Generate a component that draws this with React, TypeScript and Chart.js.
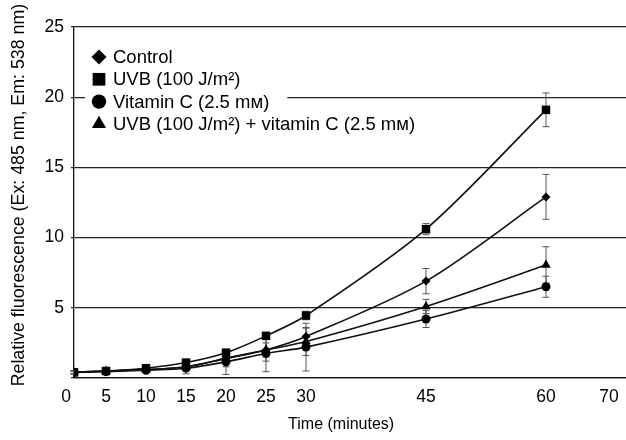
import React, { useEffect, useRef } from 'react';
import { Chart, registerables } from 'chart.js';

Chart.register(...registerables);

const FONT = '"Liberation Sans", Arial, Helvetica, sans-serif';

// Sampling times (minutes)
const times = [1, 5, 10, 15, 20, 25, 30, 45, 60];

// Series values (relative fluorescence)
const controlValues = [0.4, 0.5, 0.6, 0.8, 1.4, 2.0, 2.95, 6.9, 12.9];
const uvbValues = [0.4, 0.5, 0.7, 1.1, 1.8, 3.0, 4.45, 10.6, 19.1];
const vitCValues = [0.4, 0.45, 0.55, 0.7, 1.15, 1.75, 2.2, 4.2, 6.5];
const uvbVitCValues = [0.4, 0.5, 0.6, 0.8, 1.4, 2.0, 2.6, 5.1, 8.05];

// Error bar half-lengths
const controlErrors = [0.1, 0.1, 0.15, 0.2, 0.3, 0.5, 0.6, 0.9, 1.6];
const uvbErrors = [0.1, 0.1, 0.1, 0.15, 0.2, 0.25, 0.3, 0.4, 1.2];
const vitCErrors = [0.1, 0.1, 0.15, 0.4, 0.9, 1.3, 1.7, 0.6, 0.75];
const uvbVitCErrors = [0.1, 0.1, 0.2, 0.3, 0.6, 0.8, 1.0, 0.5, 1.3];

const seriesNames = [
  'Control',
  'UVB (100 J/m²)',
  'Vitamin C (2.5 mᴍ)',
  'UVB (100 J/m²) + vitamin C (2.5 mᴍ)',
];

const xTickValues = [0, 5, 10, 15, 20, 25, 30, 45, 60, 70];
const xTickLabels = ['0', '5', '10', '15', '20', '25', '30', '45', '60', '70'];

const yTickValues = [0, 5, 10, 15, 20, 25];
const yTickLabels = ['', '5', '10', '15', '20', '25'];

const xTitle = 'Time (minutes)';
const yTitle = 'Relative fluorescence (Ex: 485 nm, Em: 538 nm)';

const seriesValues = [controlValues, uvbValues, vitCValues, uvbVitCValues];
const seriesErrors = [controlErrors, uvbErrors, vitCErrors, uvbVitCErrors];
const pointStyles = ['rectRot', 'rect', 'circle', 'triangle'];
const pointRadii = [4.5, 6, 4.5, 5.5];
const legendRadii = [7.5, 9, 7.2, 8.2];

const NBSP = '\u00a0';

function drawMarker(ctx: CanvasRenderingContext2D, style: string, x: number, y: number, r: number) {
  ctx.beginPath();
  if (style === 'rectRot') {
    ctx.moveTo(x, y - r);
    ctx.lineTo(x + r, y);
    ctx.lineTo(x, y + r);
    ctx.lineTo(x - r, y);
    ctx.closePath();
  } else if (style === 'rect') {
    const s = r * Math.SQRT1_2;
    ctx.rect(x - s, y - s, 2 * s, 2 * s);
  } else if (style === 'circle') {
    ctx.arc(x, y, r, 0, Math.PI * 2);
  } else {
    ctx.moveTo(x, y - r);
    ctx.lineTo(x + r * 0.866, y + r / 2);
    ctx.lineTo(x - r * 0.866, y + r / 2);
    ctx.closePath();
  }
  ctx.fill();
}

const errorBarPlugin = {
  id: 'errorBars',
  beforeDatasetsDraw(chart: any) {
    const ctx = chart.ctx as CanvasRenderingContext2D;
    const yScale = chart.scales.y;
    ctx.save();
    ctx.strokeStyle = '#555';
    ctx.lineWidth = 1;
    chart.data.datasets.forEach((_ds: any, i: number) => {
      const meta = chart.getDatasetMeta(i);
      const errs = seriesErrors[i];
      meta.data.forEach((pt: any, j: number) => {
        const v = seriesValues[i][j];
        const e = errs[j];
        const yt = yScale.getPixelForValue(v + e);
        const yb = yScale.getPixelForValue(Math.max(0, v - e));
        const x = pt.x;
        ctx.beginPath();
        ctx.moveTo(x, yt);
        ctx.lineTo(x, yb);
        ctx.moveTo(x - 3.5, yt);
        ctx.lineTo(x + 3.5, yt);
        ctx.moveTo(x - 3.5, yb);
        ctx.lineTo(x + 3.5, yb);
        ctx.stroke();
      });
    });
    ctx.restore();
  },
};

const legendPlugin = {
  id: 'insideLegend',
  afterDatasetsDraw(chart: any) {
    const ctx = chart.ctx as CanvasRenderingContext2D;
    const area = chart.chartArea;
    ctx.save();
    ctx.font = `18.5px ${FONT}`;
    ctx.textBaseline = 'middle';
    ctx.textAlign = 'left';
    const x0 = area.left + 11;
    const markerX = x0 + 14;
    const textX = x0 + 28;
    const rowY0 = area.top + 30;
    const rowH = 22.3;
    seriesNames.forEach((name, i) => {
      const y = rowY0 + i * rowH;
      const w = ctx.measureText(name).width;
      ctx.fillStyle = '#fff';
      ctx.fillRect(x0, y - rowH / 2, textX + w + 18 - x0, rowH);
      ctx.fillStyle = '#000';
      drawMarker(ctx, pointStyles[i], markerX, y, legendRadii[i]);
      ctx.fillText(name, textX, y + 1);
    });
    ctx.restore();
  },
};

export default function App() {
  const canvasRef = useRef<HTMLCanvasElement | null>(null);

  useEffect(() => {
    if (!canvasRef.current) return;
    Chart.defaults.font.family = FONT;
    Chart.defaults.color = '#000';

    const datasets = seriesNames.map((name, i) => ({
      label: name,
      data: times.map((t, j) => ({ x: t, y: seriesValues[i][j] })),
      borderColor: '#111',
      backgroundColor: '#000',
      borderWidth: 1.6,
      pointStyle: pointStyles[i] as any,
      pointRadius: pointRadii[i],
      pointBorderWidth: 0,
      pointBackgroundColor: '#000',
      tension: 0.3,
      fill: false,
    }));

    const chart = new Chart(canvasRef.current, {
      type: 'line',
      data: { datasets },
      plugins: [errorBarPlugin, legendPlugin],
      options: {
        animation: false,
        responsive: false,
        maintainAspectRatio: false,
        layout: { autoPadding: false, padding: { top: 27, left: 0, right: 0, bottom: 0 } },
        plugins: {
          legend: { display: false },
          tooltip: { enabled: false },
        },
        scales: {
          x: {
            type: 'linear',
            min: 1,
            max: 70,
            afterBuildTicks: (scale: any) => {
              scale.ticks = xTickValues.map((v) => ({ value: v }));
            },
            afterFit: (scale: any) => {
              scale.height = 62;
              scale.paddingLeft = 0;
              scale.paddingRight = 0;
            },
            ticks: {
              autoSkip: false,
              maxRotation: 0,
              minRotation: 0,
              padding: 9,
              color: '#000',
              font: { size: 17.5 },
              callback: (_v: any, i: number) => {
                const lbl = xTickLabels[i];
                return i === xTickLabels.length - 1 ? lbl + NBSP.repeat(7) : lbl;
              },
            },
            grid: { display: false, drawTicks: false },
            border: { display: true, color: '#111', width: 1.3 },
            title: {
              display: true,
              text: xTitle + NBSP.repeat(4),
              color: '#000',
              font: { size: 16 },
              padding: { top: 0, bottom: 6 },
            },
          },
          y: {
            type: 'linear',
            min: 0,
            max: 25,
            afterBuildTicks: (scale: any) => {
              scale.ticks = yTickValues.map((v) => ({ value: v }));
            },
            afterFit: (scale: any) => {
              scale.width = 74;
              scale.paddingTop = 0;
              scale.paddingBottom = 0;
            },
            ticks: {
              padding: 7,
              color: '#000',
              font: { size: 17.5 },
              callback: (_v: any, i: number) => yTickLabels[i],
            },
            grid: {
              color: '#222',
              lineWidth: 1.2,
              drawTicks: true,
              tickLength: 3,
            },
            border: { display: true, color: '#111', width: 1.3 },
            title: {
              display: true,
              text: NBSP.repeat(3) + yTitle,
              color: '#000',
              font: { size: 17.8 },
              padding: { top: 8, bottom: 0 },
            },
          },
        },
      },
    });

    return () => {
      chart.destroy();
    };
  }, []);

  return (
    <div style={{ position: 'absolute', left: 0, top: 0, width: 626, height: 440, background: '#fff' }}>
      <canvas ref={canvasRef} width={626} height={440} style={{ display: 'block' }} />
    </div>
  );
}
